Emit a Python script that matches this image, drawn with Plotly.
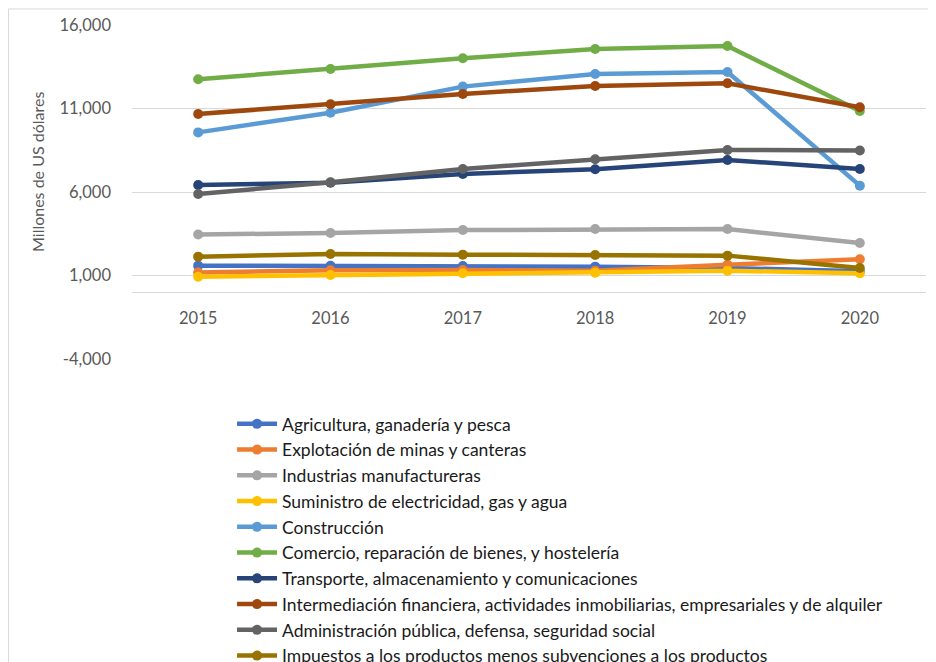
import plotly.graph_objects as go

years = ["2015", "2016", "2017", "2018", "2019", "2020"]

agricultura = [1590, 1580, 1570, 1530, 1450, 1250]
explotacion = [1180, 1310, 1330, 1290, 1650, 1970]
industrias = [3450, 3550, 3720, 3780, 3780, 2950]
suministro = [930, 1030, 1130, 1170, 1290, 1130]
construccion = [9570, 10750, 12310, 13070, 13190, 6380]
comercio = [12750, 13370, 14010, 14560, 14740, 10850]
transporte = [6420, 6550, 7080, 7360, 7920, 7380]
intermediacion = [10670, 11250, 11870, 12350, 12510, 11070]
administracion = [5880, 6580, 7380, 7960, 8520, 8480]
impuestos = [2130, 2290, 2250, 2230, 2190, 1450]

names = [
    "Agricultura, ganadería y pesca",
    "Explotación de minas y canteras",
    "Industrias manufactureras",
    "Suministro de electricidad, gas y agua",
    "Construcción",
    "Comercio, reparación de bienes, y hostelería",
    "Transporte, almacenamiento y comunicaciones",
    "Intermediación financiera, actividades inmobiliarias, empresariales y de alquiler",
    "Administración pública, defensa, seguridad social",
    "Impuestos a los productos menos subvenciones a los productos",
]
series = [agricultura, explotacion, industrias, suministro, construccion,
          comercio, transporte, intermediacion, administracion, impuestos]
colors = ["#4472C4", "#ED7D31", "#A5A5A5", "#FFC000", "#5B9BD5",
          "#70AD47", "#264478", "#9E480E", "#636363", "#997300"]

y_tickvals = [-4000, 1000, 6000, 11000, 16000]
y_ticktext = ["-4,000", "1,000", "6,000", "11,000", "16,000"]
y_title = "Millones de US dólares"

FONT = "Lato, 'Open Sans', sans-serif"

fig = go.Figure()
for i, (n, s, c) in enumerate(zip(names, series, colors)):
    fig.add_trace(go.Scatter(
        x=years, y=s, name=n, mode="lines+markers",
        line=dict(color=c, width=4.5),
        marker=dict(color=c, size=10),
    ))

fig.update_layout(
    width=928, height=654,
    margin=dict(l=124, r=10, t=17, b=303, autoexpand=False),
    paper_bgcolor="white", plot_bgcolor="white",
    font=dict(family=FONT, color="#595959", size=16),
    showlegend=True,
    legend=dict(
        x=0.126, y=-0.1407, xanchor="left", yanchor="top",
        font=dict(family=FONT, size=17.5, color="#1a1a1a"),
        itemwidth=40,
        bgcolor="rgba(0,0,0,0)",
    ),
    xaxis=dict(
        type="category", range=[-0.5, 5.5],
        showgrid=False, showline=False, zeroline=False,
        anchor="free", position=0.2,
        ticks="outside", ticklen=0, ticklabelstandoff=11,
        tickfont=dict(size=16.5, color="#595959"),
    ),
    yaxis=dict(
        range=[-4000, 16000],
        tickvals=y_tickvals, ticktext=y_ticktext,
        showgrid=True, gridcolor="#d9d9d9", gridwidth=1,
        zeroline=True, zerolinecolor="#d9d9d9", zerolinewidth=1,
        showline=False, ticks="", ticklabelstandoff=20,
        tickfont=dict(size=16.5, color="#595959"),
    ),
    annotations=[dict(
        text=y_title, xref="paper", yref="paper",
        x=-0.1184, y=0.56, xanchor="center", yanchor="middle",
        textangle=-90, showarrow=False,
        font=dict(size=16, color="#595959", family=FONT),
    )],
    shapes=[
        dict(type="line", xref="paper", yref="paper",
             x0=-0.1555, x1=-0.1555, y0=1.048, y1=-1.0,
             line=dict(color="#d9d9d9", width=1)),
        dict(type="line", xref="paper", yref="paper",
             x0=-0.1555, x1=1.2, y0=1.048, y1=1.048,
             line=dict(color="#d9d9d9", width=1)),
    ],
)

fig.write_html("out.html")
